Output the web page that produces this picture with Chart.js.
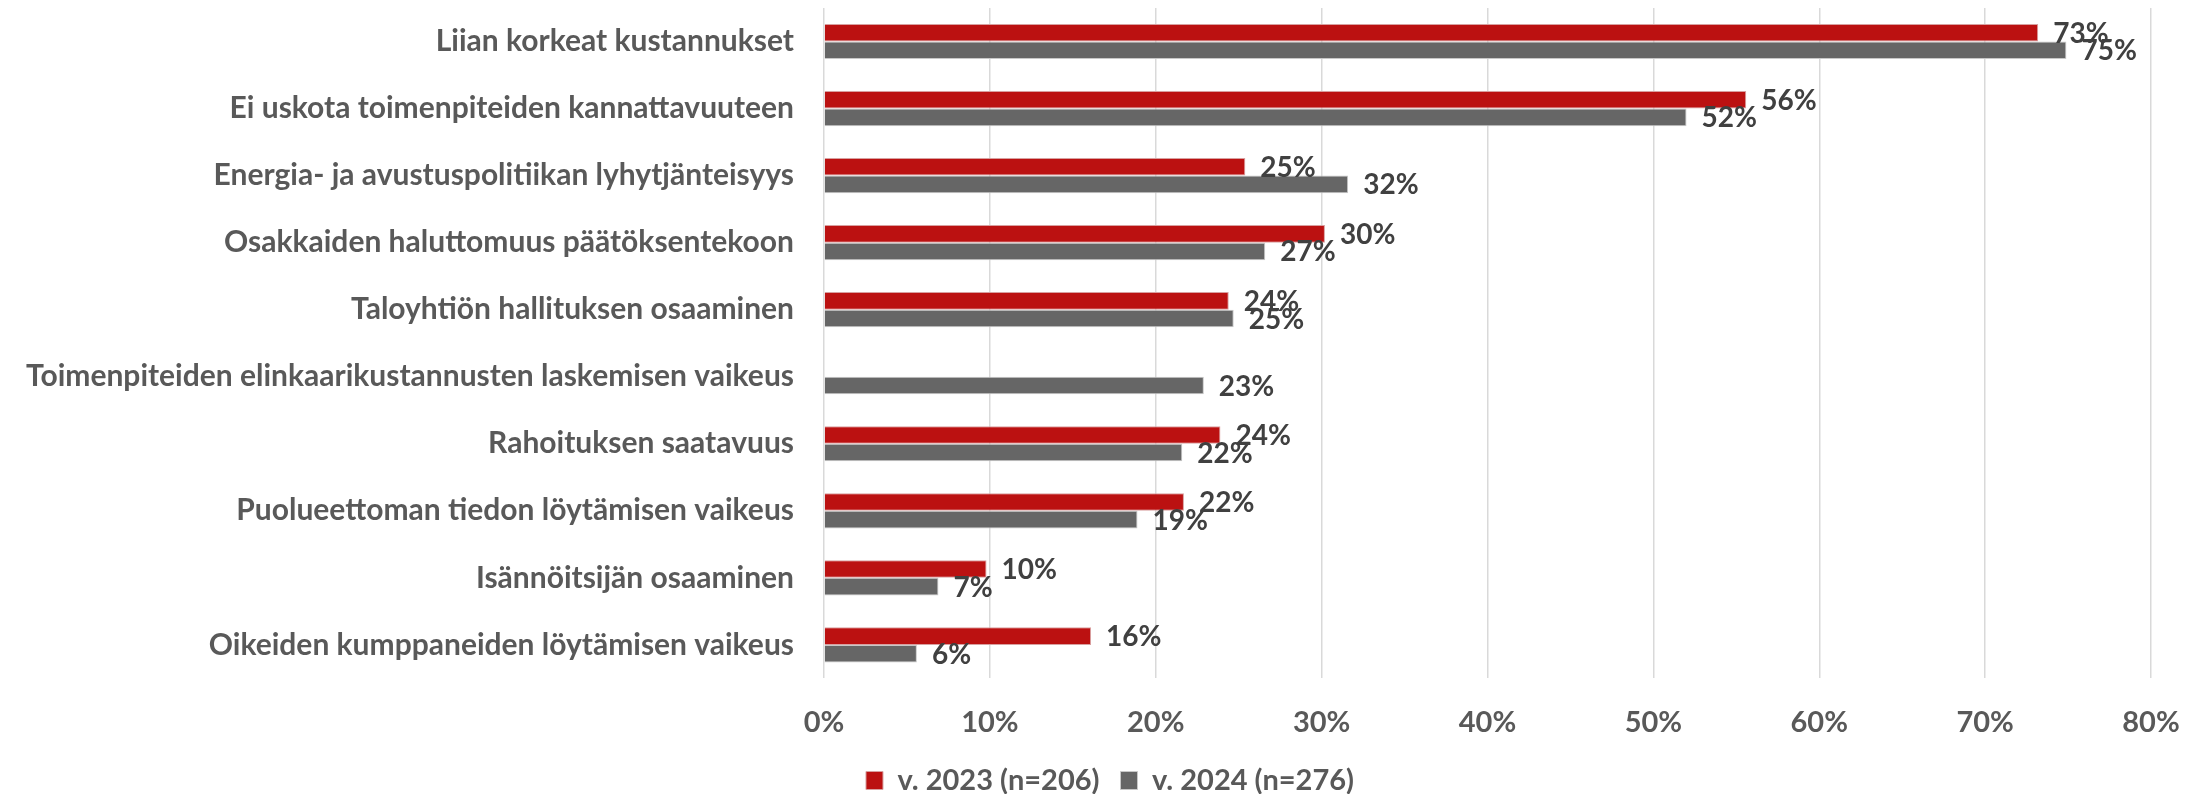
<!DOCTYPE html>
<html>
<head>
<meta charset="utf-8">
<script src="https://cdn.jsdelivr.net/npm/chart.js@4.4.1/dist/chart.umd.min.js"></script>
<style>
  html, body { margin: 0; padding: 0; background: #ffffff; }
  #wrap { width: 2204px; height: 794px; }
</style>
</head>
<body>
<div id="wrap"><canvas id="c" width="2204" height="794"></canvas></div>
<script>
const categories = [
  'Liian korkeat kustannukset',
  'Ei uskota toimenpiteiden kannattavuuteen',
  'Energia- ja avustuspolitiikan lyhytjänteisyys',
  'Osakkaiden haluttomuus päätöksentekoon',
  'Taloyhtiön hallituksen osaaminen',
  'Toimenpiteiden elinkaarikustannusten laskemisen vaikeus',
  'Rahoituksen saatavuus',
  'Puolueettoman tiedon löytämisen vaikeus',
  'Isännöitsijän osaaminen',
  'Oikeiden kumppaneiden löytämisen vaikeus'
];
const values2023 = [73.2, 55.6, 25.4, 30.2, 24.4, null, 23.9, 21.7, 9.8, 16.1];
const values2024 = [74.9, 52.0, 31.6, 26.6, 24.7, 22.9, 21.6, 18.9, 6.9, 5.6];
const seriesNames = ['v. 2023 (n=206)', 'v. 2024 (n=276)'];
const tickLabels = ['0%', '10%', '20%', '30%', '40%', '50%', '60%', '70%', '80%'];

const FONT = 'Lato';
const RED = '#BB1111';
const GRAY = '#666666';

const dataLabelPlugin = {
  id: 'dataLabels',
  afterDatasetsDraw(chart) {
    const ctx = chart.ctx;
    ctx.save();
    ctx.font = 'bold 28px ' + FONT;
    ctx.fillStyle = '#404040';
    ctx.textAlign = 'left';
    ctx.textBaseline = 'middle';
    chart.data.datasets.forEach((ds, di) => {
      const meta = chart.getDatasetMeta(di);
      meta.data.forEach((el, i) => {
        const v = ds.data[i];
        if (v === null || v === undefined) return;
        ctx.fillText(Math.round(v) + '%', el.x + 15, el.y + 1);
      });
    });
    ctx.restore();
  }
};

function draw() {
  new Chart(document.getElementById('c'), {
    type: 'bar',
    data: {
      labels: categories,
      datasets: [
        { label: seriesNames[0], data: values2023, backgroundColor: RED, borderColor: '#d8a0a0', borderWidth: 1 },
        { label: seriesNames[1], data: values2024, backgroundColor: GRAY, borderColor: '#c8c8c8', borderWidth: 1 }
      ]
    },
    options: {
      indexAxis: 'y',
      responsive: false,
      animation: false,
      devicePixelRatio: 1,
      categoryPercentage: 0.525,
      barPercentage: 1.0,
      layout: { padding: { left: 16, right: 0, top: 8, bottom: -11 } },
      scales: {
        x: {
          min: 0, max: 80,
          ticks: {
            stepSize: 10,
            padding: 27,
            color: '#595959',
            font: { family: FONT, size: 29, weight: 'bold' },
            callback: (v) => tickLabels[Math.round(v / 10)]
          },
          grid: { color: '#d9d9d9', lineWidth: 1.5, drawTicks: false },
          border: { display: false },
          afterFit: (s) => { s.height = 66.6; s.paddingRight = 53; }
        },
        y: {
          ticks: {
            padding: 0,
            color: '#595959',
            font: { family: FONT, size: 30, weight: 'bold', lineHeight: 0.4 }
          },
          grid: { display: false, drawTicks: true, tickLength: 30 },
          border: { display: false },
          afterFit: (s) => { s.width = 808; }
        }
      },
      plugins: {
        legend: {
          position: 'bottom',
          labels: {
            boxWidth: 17,
            boxHeight: 18,
            padding: 21,
            color: '#595959',
            font: { family: FONT, size: 29, weight: 'bold' }
          }
        },
        tooltip: { enabled: false }
      }
    },
    plugins: [dataLabelPlugin]
  });
}

if (document.fonts && document.fonts.load) {
  Promise.all([
    document.fonts.load('bold 30px ' + FONT),
    document.fonts.load('bold 28px ' + FONT)
  ]).then(draw, draw);
} else {
  draw();
}
</script>
</body>
</html>
